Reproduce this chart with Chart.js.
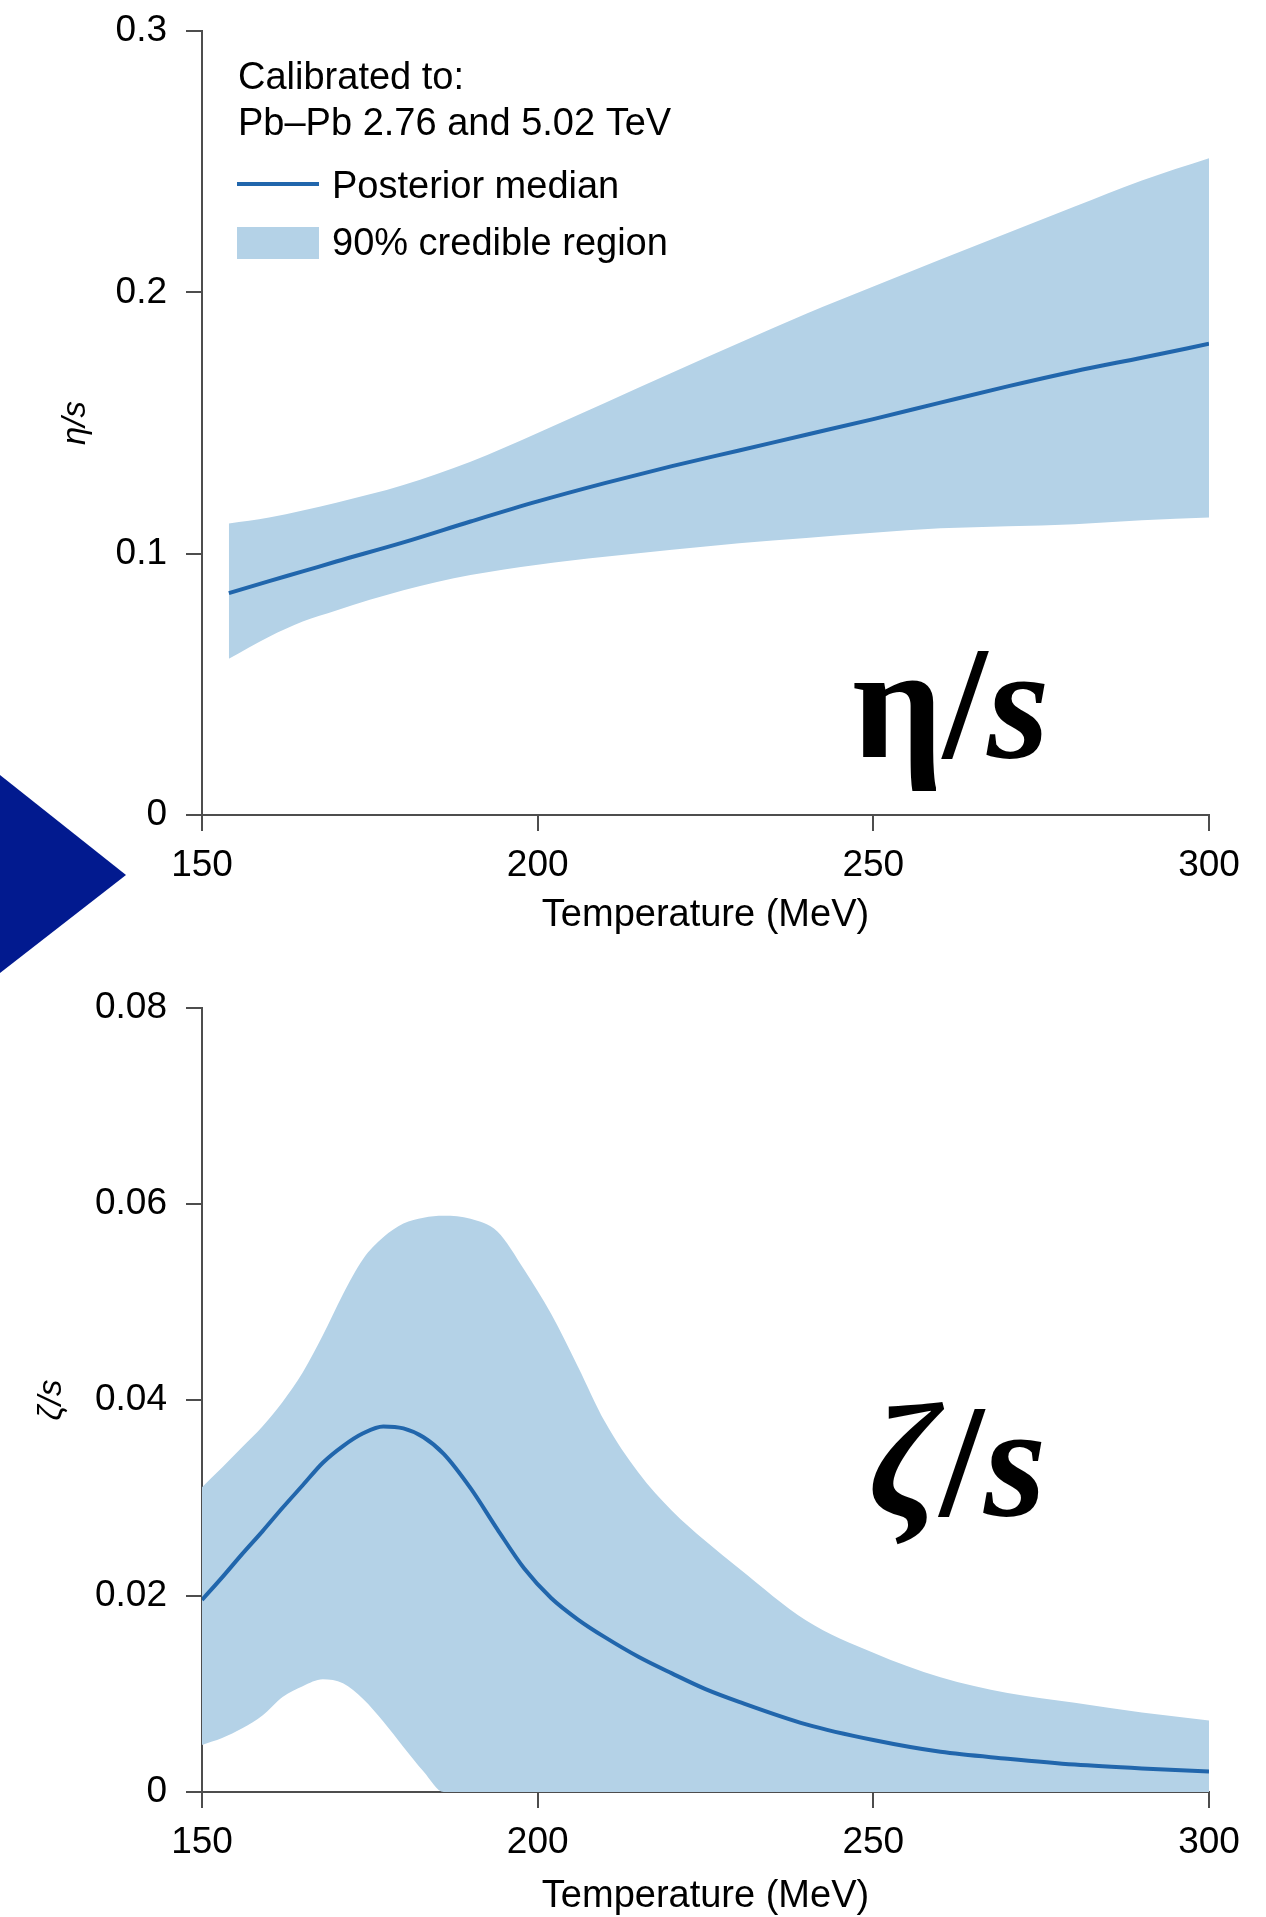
<!DOCTYPE html>
<html>
<head>
<meta charset="utf-8">
<title>Temperature dependence of η/s and ζ/s</title>
<script src="https://cdn.jsdelivr.net/npm/chart.js@4.4.1/dist/chart.umd.min.js"></script>
<style>
  html, body { margin: 0; padding: 0; background: #fff; }
  body { position: relative; width: 1266px; height: 1917px; overflow: hidden; }
  canvas { position: absolute; left: 0; }
  #etaChart { top: 0; }
  #zetaChart { top: 945px; }
  .arrow {
    position: absolute; left: 0; top: 775px; width: 126px; height: 198px;
    background: #021a8f; clip-path: polygon(0 0, 100% 50.5%, 0 100%);
  }
</style>
</head>
<body>
<canvas id="etaChart" width="1266" height="945"></canvas>
<canvas id="zetaChart" width="1266" height="972"></canvas>
<div class="arrow"></div>
<script>
// shear viscosity eta/s vs temperature (MeV)
const etaTemps  = [154, 160, 165, 170, 180, 190, 200, 210, 220, 230, 240, 250, 260, 270, 280, 290, 300];
const etaMedian = [0.0849, 0.0895, 0.0932, 0.0970, 0.1043, 0.1123, 0.1200, 0.1270, 0.1335, 0.1395, 0.1455, 0.1515, 0.1578, 0.1640, 0.1698, 0.1750, 0.1803];
const etaLower  = [0.0598, 0.0682, 0.0740, 0.0783, 0.0860, 0.0918, 0.0958, 0.0988, 0.1015, 0.1040, 0.1060, 0.1080, 0.1097, 0.1105, 0.1113, 0.1128, 0.1138];
const etaUpper  = [0.1115, 0.1138, 0.1165, 0.1195, 0.1263, 0.1352, 0.1462, 0.1577, 0.1692, 0.1806, 0.1918, 0.2022, 0.2126, 0.2227, 0.2328, 0.2428, 0.2513];

// bulk viscosity zeta/s vs temperature (MeV)
const zetaTemps  = [150, 153, 156, 159, 162, 165, 168, 171, 174, 177, 180, 183, 186, 190, 194, 198, 202, 206, 210, 215, 220, 225, 230, 240, 250, 260, 270, 280, 290, 300];
const zetaMedian = [0.0196, 0.0219, 0.0243, 0.0266, 0.0290, 0.0313, 0.0336, 0.0353, 0.0366, 0.0373, 0.0371, 0.0362, 0.0345, 0.0310, 0.0268, 0.0228, 0.0198, 0.0176, 0.0158, 0.0138, 0.0121, 0.0105, 0.0092, 0.0069, 0.0053, 0.0041, 0.0034, 0.0028, 0.0024, 0.0021];
const zetaLower  = [0.0048, 0.0055, 0.0065, 0.0078, 0.0097, 0.0108, 0.0115, 0.0111, 0.0095, 0.0072, 0.0046, 0.0021, 0, 0, 0, 0, 0, 0, 0, 0, 0, 0, 0, 0, 0, 0, 0, 0, 0, 0];
const zetaUpper  = [0.0311, 0.0331, 0.0352, 0.0373, 0.0398, 0.0428, 0.0466, 0.0508, 0.0544, 0.0566, 0.0580, 0.0586, 0.0588, 0.0585, 0.0572, 0.0533, 0.0488, 0.0434, 0.0378, 0.0326, 0.0287, 0.0256, 0.0228, 0.0175, 0.0142, 0.0117, 0.0101, 0.0091, 0.0081, 0.0073];

const tempTicks = [150, 200, 250, 300];
const etaTicks  = [0, 0.1, 0.2, 0.3];
const zetaTicks = [0, 0.02, 0.04, 0.06, 0.08];

const LINE_BLUE = '#2166ac';
const BAND_BLUE = '#b4d2e7';
const AXIS_GREY = '#4d4d4d';
const SANS = '"Liberation Sans", Arial, Helvetica, sans-serif';
const SERIF = '"Liberation Serif", "Times New Roman", serif';

Chart.defaults.font.family = SANS;
Chart.defaults.color = '#000';

function points(xs, ys) {
  return xs.map((x, i) => ({ x: x, y: ys[i] }));
}

// median line + lower/upper edges of the credible band (upper fills down to lower)
function makeDatasets(temps, lower, median, upper) {
  return [
    { label: 'Posterior median', data: points(temps, median), borderColor: LINE_BLUE, borderWidth: 4,
      pointRadius: 0, fill: false, cubicInterpolationMode: 'monotone' },
    { label: 'lower', data: points(temps, lower), borderColor: 'rgba(0,0,0,0)', borderWidth: 0,
      pointRadius: 0, fill: false, cubicInterpolationMode: 'monotone' },
    { label: '90% credible region', data: points(temps, upper), borderColor: 'rgba(0,0,0,0)', borderWidth: 0,
      backgroundColor: BAND_BLUE, pointRadius: 0, fill: 1, cubicInterpolationMode: 'monotone' }
  ];
}

function buildOptions(cfg) {
  const grid = { drawOnChartArea: false, color: AXIS_GREY, lineWidth: 2, tickLength: 16 };
  const border = { color: AXIS_GREY, width: 2 };
  return {
    responsive: false,
    animation: false,
    events: [],
    layout: { padding: { top: cfg.padTop, right: 57, bottom: 0, left: 0 } },
    plugins: { legend: { display: false }, tooltip: { enabled: false } },
    scales: {
      x: {
        type: 'linear', min: 150, max: 300,
        afterBuildTicks: axis => { axis.ticks = tempTicks.map(v => ({ value: v })); },
        afterFit: axis => { axis.height = cfg.xHeight; },
        grid: grid, border: border,
        ticks: { font: { size: 37 }, padding: 13, maxRotation: 0 },
        title: { display: true, text: 'Temperature (MeV)', font: { size: 38, lineHeight: 1.1 },
                 padding: { top: 0, bottom: cfg.xTitlePad } }
      },
      y: {
        type: 'linear', min: 0, max: cfg.yMax,
        afterBuildTicks: axis => { axis.ticks = cfg.yTicks.map(v => ({ value: v })); },
        // fixed axis width; drop the label overhang so the plot top follows layout padding
        afterFit: axis => { axis.width = 202; axis.paddingTop = 0; },
        grid: grid, border: border,
        ticks: { font: { size: 37 }, padding: 19, callback: v => String(+v.toFixed(3)) },
        title: { display: true, text: cfg.yTitle, font: { size: 33, style: 'italic' },
                 padding: { top: cfg.yTitlePad, bottom: 0 } }
      }
    }
  };
}

// large bold symbol in the lower right of a panel, e.g. "η/s"
function symbolLabel(id, glyph, italicGlyph, dx, dy) {
  return {
    id: id,
    afterDraw(chart) {
      const { ctx, chartArea } = chart;
      const upright = 'bold 160px ' + SERIF;
      const italic = 'italic bold 160px ' + SERIF;
      let x = chartArea.right - dx;
      const y = chartArea.bottom - dy;
      ctx.save();
      ctx.fillStyle = '#000';
      ctx.textBaseline = 'alphabetic';
      ctx.font = italicGlyph ? italic : upright;
      ctx.fillText(glyph, x, y);
      x += ctx.measureText(glyph).width;
      ctx.font = upright;
      ctx.fillText('/', x, y);
      x += ctx.measureText('/').width;
      ctx.font = italic;
      ctx.fillText('s', x, y);
      ctx.restore();
    }
  };
}

// legend box inside the eta/s panel
const etaLegend = {
  id: 'etaLegend',
  afterDraw(chart) {
    const { ctx, chartArea } = chart;
    const median = chart.data.datasets[0];
    const band = chart.data.datasets[2];
    const x0 = chartArea.left + 36;
    const y0 = chartArea.top;
    ctx.save();
    ctx.font = '38px ' + SANS;
    ctx.fillStyle = '#000';
    ctx.textBaseline = 'alphabetic';
    ctx.fillText('Calibrated to:', x0, y0 + 58);
    ctx.fillText('Pb–Pb 2.76 and 5.02 TeV', x0, y0 + 104);

    ctx.strokeStyle = median.borderColor;
    ctx.lineWidth = median.borderWidth;
    ctx.beginPath();
    ctx.moveTo(x0 - 1, y0 + 153);
    ctx.lineTo(x0 + 81, y0 + 153);
    ctx.stroke();
    ctx.fillText(median.label, x0 + 94, y0 + 167);

    ctx.fillStyle = band.backgroundColor;
    ctx.fillRect(x0 - 1, y0 + 196, 82, 32);
    ctx.fillStyle = '#000';
    ctx.fillText(band.label, x0 + 94, y0 + 224);
    ctx.restore();
  }
};

new Chart(document.getElementById('etaChart'), {
  type: 'line',
  data: { datasets: makeDatasets(etaTemps, etaLower, etaMedian, etaUpper) },
  options: buildOptions({ padTop: 31, xHeight: 130, xTitlePad: 9, yMax: 0.3, yTicks: etaTicks,
                          yTitle: 'η/s', yTitlePad: 56 }),
  plugins: [etaLegend, symbolLabel('etaSymbol', 'η', false, 357, 58)]
});

new Chart(document.getElementById('zetaChart'), {
  type: 'line',
  data: { datasets: makeDatasets(zetaTemps, zetaLower, zetaMedian, zetaUpper) },
  options: buildOptions({ padTop: 63, xHeight: 125, xTitlePad: 0, yMax: 0.08, yTicks: zetaTicks,
                          yTitle: 'ζ/s', yTitlePad: 32 }),
  plugins: [symbolLabel('zetaSymbol', 'ζ', true, 340, 277)]
});
</script>
</body>
</html>
